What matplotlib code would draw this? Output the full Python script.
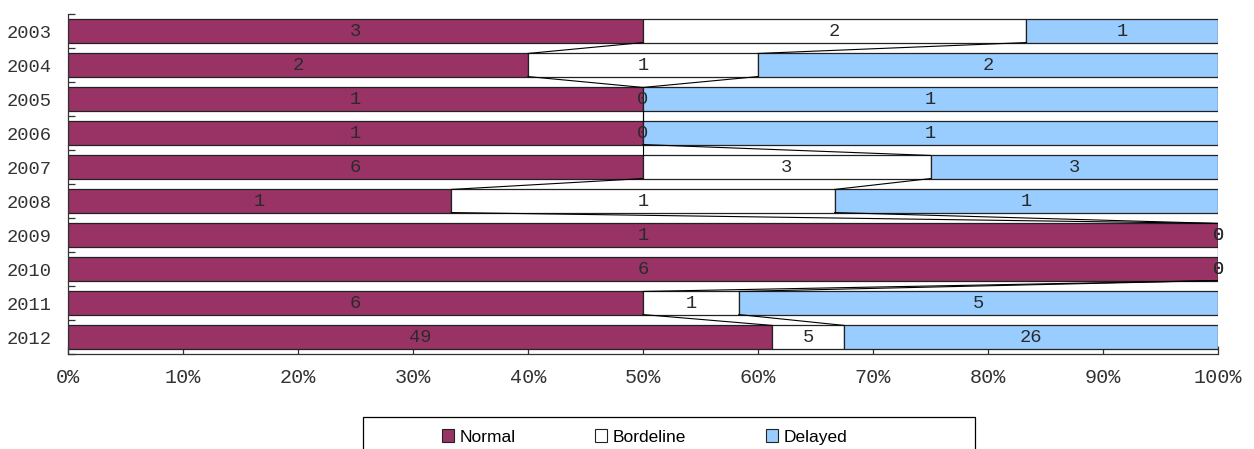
import numpy as np
import matplotlib.pyplot as plt
from matplotlib.patches import Patch, Rectangle

# Data
years = ['2003', '2004', '2005', '2006', '2007', '2008', '2009', '2010', '2011', '2012']
normal = [3, 2, 1, 1, 6, 1, 1, 6, 6, 49]
bordeline = [2, 1, 0, 0, 3, 1, 0, 0, 1, 5]
delayed = [1, 2, 1, 1, 3, 1, 0, 0, 5, 26]

series_names = ['Normal', 'Bordeline', 'Delayed']
series_colors = ['#993366', '#FFFFFF', '#99CCFF']

mono = 'Liberation Mono'

counts = np.array([normal, bordeline, delayed], dtype=float)
totals = counts.sum(axis=0)
shares = counts / totals

fig = plt.figure(figsize=(12.54, 4.49), dpi=100)
ax = fig.add_axes([68 / 1254, 1 - 354 / 449, 1150 / 1254, 340 / 449])

y = np.arange(len(years))
bar_h = 0.68
left = np.zeros(len(years))
for k in range(3):
    ax.barh(y, shares[k], left=left, height=bar_h, color=series_colors[k],
            edgecolor='#222222', linewidth=0.9, zorder=2)
    # labels in the middle of each segment
    for i in range(len(years)):
        ax.text(left[i] + shares[k][i] / 2, y[i], str(int(counts[k][i])),
                ha='center', va='center', fontsize=13.5, family=mono,
                color='#2a2a2a', zorder=4)
    left = left + shares[k]

# series lines between neighbouring bars
cum = np.cumsum(shares, axis=0)
for k in range(2):
    for i in range(len(years) - 1):
        ax.plot([cum[k][i], cum[k][i + 1]], [y[i] + bar_h / 2, y[i + 1] - bar_h / 2],
                color='black', linewidth=0.8, zorder=3)

ax.set_xlim(0, 1)
ax.set_ylim(len(years) - 0.5, -0.5)
ax.set_xticks(np.linspace(0, 1, 11))
ax.set_xticklabels([f'{int(v)}%' for v in np.linspace(0, 100, 11)], family=mono, fontsize=14.5,
                   color='#333333')
ax.set_yticks(y)
ax.set_yticklabels(years, family=mono, fontsize=13.5, color='#333333')
ax.set_yticks(np.arange(len(years) + 1) - 0.5, minor=True)
ax.tick_params(axis='y', which='major', length=0, pad=12)
ax.tick_params(axis='y', which='minor', direction='in', length=5, width=0.9, color='#333333')
ax.tick_params(axis='x', direction='in', length=6, width=0.9, color='#333333', pad=10)

for side in ['top', 'right']:
    ax.spines[side].set_visible(False)
for side in ['left', 'bottom']:
    ax.spines[side].set_color('#333333')
    ax.spines[side].set_linewidth(0.9)

# legend frame runs off the bottom of the picture, as in the original
fig.patches.append(Rectangle((363 / 1254, -0.1), 612 / 1254, 0.1 + 32 / 449,
                             transform=fig.transFigure, facecolor='white',
                             edgecolor='black', linewidth=0.9))

handles = [Patch(facecolor=c, edgecolor='#222222', linewidth=0.8) for c in series_colors]
leg = fig.legend(handles, series_names, loc='center left', ncol=3,
                 bbox_to_anchor=(428 / 1254, 1 - 437 / 449),
                 frameon=False, handlelength=0.7, handleheight=0.7, handletextpad=0.3,
                 columnspacing=4.6, borderpad=0.3,
                 prop={'family': 'Liberation Sans', 'size': 12.5})

fig.savefig('out.png', dpi=100)
